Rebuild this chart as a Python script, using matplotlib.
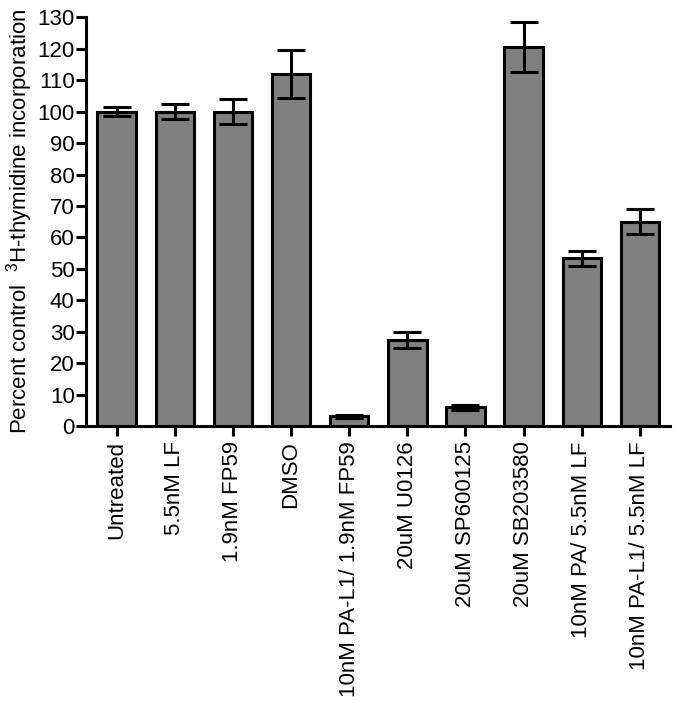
import matplotlib
matplotlib.use('Agg')
import matplotlib.pyplot as plt
import numpy as np

plt.rcParams['font.family'] = ['Liberation Sans', 'DejaVu Sans']
plt.rcParams['mathtext.fontset'] = 'custom'
plt.rcParams['mathtext.rm'] = 'Liberation Sans'

# data
labels = ['Untreated', '5.5nM LF', '1.9nM FP59', 'DMSO',
          '10nM PA-L1/ 1.9nM FP59', '20uM U0126', '20uM SP600125',
          '20uM SB203580', '10nM PA/ 5.5nM LF', '10nM PA-L1/ 5.5nM LF']
means = [100.0, 100.0, 100.0, 112.0, 3.1, 27.3, 5.9, 120.7, 53.3, 65.0]
errs = [1.5, 2.4, 4.0, 7.6, 0.5, 2.6, 0.8, 7.9, 2.5, 3.9]

fig = plt.figure(figsize=(6.81, 7.14), dpi=100)
fig.patch.set_facecolor('white')
ax = fig.add_axes([0.126, 0.4034, 0.858, 0.5721])

x = np.arange(len(labels))
ax.bar(x, means, width=0.66, color='#808080', edgecolor='black', linewidth=2.2, zorder=2)
ax.errorbar(x, means, yerr=errs, fmt='none', ecolor='black', elinewidth=2.2,
            capsize=10, capthick=2.2, zorder=3)

ax.set_xlim(-0.53, 9.52)
ax.set_ylim(0, 130)
ax.set_yticks(np.arange(0, 131, 10))
ax.set_xticks(x)
ax.set_xticklabels(labels, rotation=90, fontsize=16)
ax.tick_params(axis='y', labelsize=16, width=2.2, length=7, pad=1)
ax.tick_params(axis='x', width=2.2, length=7, pad=4)

for side in ['top', 'right']:
    ax.spines[side].set_visible(False)
for side in ['left', 'bottom']:
    ax.spines[side].set_linewidth(2.2)

ax.set_ylabel(r'Percent control  $^{3}$H-thymidine incorporation', fontsize=16, labelpad=2)

plt.savefig('out.png', dpi=100, facecolor='white')
plt.close()
